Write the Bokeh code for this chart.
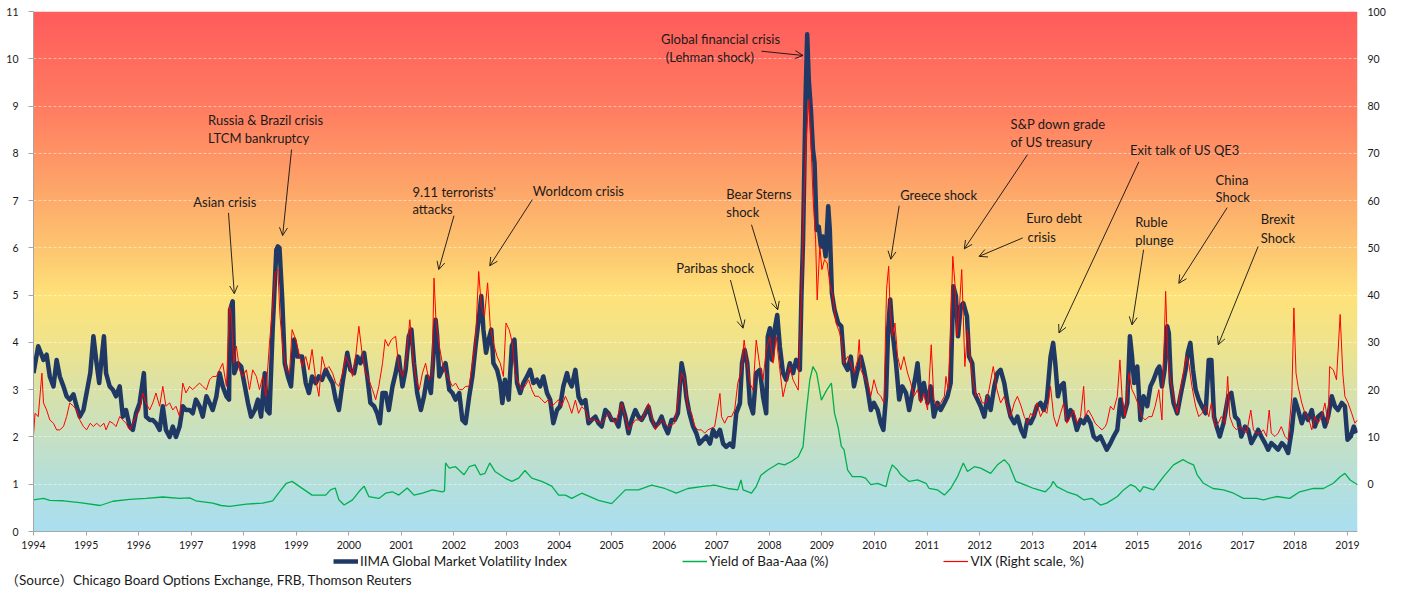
import numpy as np
from bokeh.plotting import figure
from bokeh.layouts import column
from bokeh.models import (Range1d, LinearAxis, FixedTicker, Legend, LegendItem, Label, Title,
                          Arrow, OpenHead, ColumnDataSource)
from bokeh.core.properties import value
from bokeh.embed import file_html
from bokeh.resources import INLINE

# ---------------- data ----------------
iima_dates = [
1994.00,1994.09,1994.19,1994.25,1994.31,1994.38,1994.44,1994.50,1994.57,1994.63,1994.69,1994.76,1994.82,1994.88,1994.95,
1995.01,1995.08,1995.14,1995.20,1995.25,1995.30,1995.34,1995.38,1995.45,1995.51,1995.57,1995.64,1995.70,1995.76,1995.83,1995.89,1995.95,
1996.02,1996.10,1996.14,1996.21,1996.27,1996.33,1996.40,1996.46,1996.52,1996.59,1996.65,1996.71,1996.78,1996.84,1996.90,1996.97,
1997.03,1997.09,1997.16,1997.22,1997.29,1997.35,1997.41,1997.48,1997.54,1997.60,1997.67,1997.72,1997.74,1997.79,1997.82,1997.89,1997.95,
1998.01,1998.08,1998.14,1998.21,1998.27,1998.33,1998.40,1998.44,1998.49,1998.55,1998.62,1998.65,1998.68,1998.73,1998.78,1998.84,1998.90,1998.96,
1999.02,1999.11,1999.18,1999.24,1999.30,1999.37,1999.43,1999.49,1999.56,1999.62,1999.69,1999.75,1999.81,1999.88,1999.97,
2000.03,2000.10,2000.16,2000.22,2000.29,2000.35,2000.41,2000.48,2000.54,2000.59,2000.64,2000.70,2000.76,2000.83,2000.89,2000.95,
2001.02,2001.08,2001.14,2001.19,2001.24,2001.30,2001.37,2001.43,2001.49,2001.56,2001.60,2001.65,2001.68,2001.72,2001.78,2001.84,2001.91,2001.97,
2002.03,2002.10,2002.16,2002.22,2002.29,2002.35,2002.41,2002.47,2002.52,2002.56,2002.61,2002.66,2002.71,2002.75,2002.82,2002.88,2002.92,2002.97,
2003.04,2003.10,2003.15,2003.20,2003.26,2003.32,2003.39,2003.45,2003.51,2003.58,2003.64,2003.70,2003.77,2003.83,2003.89,2003.96,
2004.02,2004.08,2004.15,2004.18,2004.24,2004.31,2004.37,2004.43,2004.50,2004.56,2004.62,2004.69,2004.75,2004.81,2004.88,2004.94,
2005.00,2005.07,2005.13,2005.19,2005.26,2005.32,2005.38,2005.45,2005.51,2005.57,2005.64,2005.70,2005.76,2005.83,2005.89,2005.95,
2006.01,2006.07,2006.14,2006.20,2006.26,2006.33,2006.38,2006.42,2006.48,2006.55,2006.61,2006.67,2006.74,2006.80,2006.87,2006.93,2006.99,
2007.06,2007.12,2007.18,2007.25,2007.31,2007.37,2007.44,2007.48,2007.53,2007.58,2007.63,2007.69,2007.75,2007.82,2007.88,2007.94,2007.97,
2008.01,2008.05,2008.10,2008.15,2008.20,2008.26,2008.32,2008.39,2008.45,2008.51,2008.58,2008.61,2008.64,2008.69,2008.72,2008.75,2008.79,2008.83,2008.86,2008.90,2008.94,2008.98,
2009.02,2009.07,2009.12,2009.15,2009.19,2009.24,2009.31,2009.37,2009.42,2009.49,2009.55,2009.61,2009.68,2009.74,2009.80,2009.87,2009.93,2009.99,
2010.06,2010.12,2010.17,2010.22,2010.26,2010.30,2010.34,2010.41,2010.47,2010.53,2010.60,2010.66,2010.72,2010.77,2010.82,2010.88,2010.94,
2011.01,2011.07,2011.13,2011.20,2011.26,2011.33,2011.39,2011.45,2011.50,2011.55,2011.59,2011.64,2011.69,2011.76,2011.80,2011.86,2011.90,2011.96,
2012.02,2012.09,2012.15,2012.21,2012.28,2012.34,2012.40,2012.47,2012.53,2012.59,2012.66,2012.72,2012.79,2012.85,2012.91,2012.97,
2013.03,2013.09,2013.16,2013.22,2013.28,2013.35,2013.40,2013.44,2013.49,2013.54,2013.60,2013.66,2013.73,2013.79,2013.85,2013.92,2013.98,
2014.04,2014.11,2014.17,2014.23,2014.30,2014.36,2014.42,2014.49,2014.55,2014.62,2014.68,2014.74,2014.81,2014.86,2014.90,2014.94,
2015.00,2015.06,2015.12,2015.19,2015.25,2015.31,2015.38,2015.42,2015.47,2015.52,2015.57,2015.60,2015.64,2015.69,2015.76,2015.82,2015.87,2015.92,2015.96,
2016.01,2016.06,2016.11,2016.17,2016.23,2016.30,2016.36,2016.41,2016.46,2016.51,2016.57,2016.64,2016.73,2016.79,2016.86,2016.92,2016.98,
2017.05,2017.11,2017.17,2017.24,2017.30,2017.36,2017.43,2017.49,2017.55,2017.62,2017.68,2017.75,2017.81,2017.87,2017.94,
2018.00,2018.06,2018.13,2018.19,2018.25,2018.32,2018.38,2018.44,2018.51,2018.57,2018.63,2018.70,2018.76,2018.82,2018.89,2018.95,
2019.00,2019.06,2019.12,2019.17]
iima_values = [
3.35,3.92,3.63,3.74,3.28,3.07,3.63,3.28,3.07,2.86,2.79,2.90,2.65,2.43,2.57,
2.93,3.35,4.13,3.56,3.14,3.70,4.13,3.35,3.07,3.00,2.86,3.07,2.43,2.57,2.22,2.15,2.50,
2.72,3.35,2.43,2.36,2.36,2.29,2.15,2.65,2.15,2.00,2.22,2.00,2.22,2.65,2.57,2.57,
2.50,2.79,2.65,2.43,2.86,2.72,2.57,2.86,3.35,3.07,2.86,2.79,4.69,4.87,3.35,3.56,3.49,
3.14,2.72,2.43,2.57,2.79,2.43,3.35,2.57,2.50,4.27,5.96,6.03,6.00,4.97,3.56,3.28,3.07,4.06,
3.70,3.70,3.14,2.93,3.28,3.14,3.28,3.21,3.42,3.28,3.14,2.79,2.57,3.14,3.78,
3.42,3.35,3.70,3.56,3.78,3.28,2.72,2.65,2.50,2.29,2.93,2.93,2.57,3.07,3.35,3.70,
3.07,3.42,4.13,4.27,3.56,2.93,2.57,2.86,3.28,2.93,3.56,4.48,4.13,3.28,3.42,3.56,3.00,2.93,
2.79,2.93,2.36,2.29,2.86,3.28,3.92,4.48,4.98,4.27,3.78,4.06,4.27,3.56,3.42,3.14,2.72,3.21,
2.79,3.92,4.06,3.14,2.93,3.14,3.28,3.42,3.14,3.21,3.07,3.28,2.93,2.79,2.29,2.57,
2.65,3.07,3.35,3.21,3.07,3.42,2.85,2.71,2.78,2.29,2.36,2.43,2.29,2.22,2.57,2.50,
2.36,2.36,2.22,2.71,2.43,2.08,2.36,2.57,2.43,2.36,2.50,2.64,2.36,2.22,2.29,2.43,
2.22,2.08,2.36,2.36,2.50,3.56,3.28,2.85,2.50,2.22,2.08,1.86,1.94,2.01,1.86,2.15,2.01,
2.15,1.86,1.79,1.86,1.79,2.50,2.71,3.56,3.84,3.56,2.71,2.50,3.35,3.42,2.85,2.50,4.12,
4.30,3.63,4.27,4.58,3.91,3.35,3.21,3.56,3.35,3.63,3.42,4.97,6.10,9.21,10.52,9.56,8.93,8.08,7.80,6.38,6.45,6.03,
6.24,5.82,6.88,6.38,5.04,4.69,4.41,4.34,3.56,3.42,3.70,3.07,3.42,3.70,3.42,3.00,2.57,2.72,
2.57,2.29,2.15,2.86,4.27,4.91,4.27,3.56,2.79,3.07,2.93,2.57,2.93,3.21,3.56,2.79,3.14,
2.72,3.07,2.43,2.72,2.57,2.72,2.86,3.14,5.19,4.98,4.13,4.76,4.83,4.55,3.70,3.56,2.93,2.79,
2.65,2.43,2.86,2.57,3.07,3.35,3.42,3.14,2.72,2.43,2.29,2.43,2.15,2.01,2.36,2.29,
2.43,2.65,2.72,2.57,2.79,3.70,3.99,3.56,2.86,3.07,3.14,2.36,2.57,2.43,2.15,2.36,2.29,
2.43,2.29,2.01,1.94,2.01,1.87,1.73,1.87,2.01,2.15,2.79,2.43,2.72,4.13,3.70,3.14,
3.49,2.36,2.86,2.65,3.07,3.21,3.42,3.49,3.07,3.42,4.34,4.20,3.14,2.72,2.50,2.86,3.14,3.42,3.78,
3.99,3.42,3.00,2.79,2.65,2.50,3.63,3.63,2.43,2.22,2.01,2.29,2.86,2.93,2.43,2.36,2.01,
2.22,2.15,1.87,2.01,2.15,2.01,1.87,1.73,1.87,1.80,1.73,1.87,1.80,1.66,2.15,
2.79,2.57,2.29,2.50,2.36,2.57,2.22,2.43,2.50,2.22,2.43,2.86,2.65,2.57,2.72,2.65,
1.94,2.01,2.22,2.08]

vix_dates = [
1994.00,1994.03,1994.09,1994.16,1994.19,1994.25,1994.31,1994.38,1994.44,1994.50,1994.57,1994.63,1994.69,1994.76,1994.82,1994.88,1994.95,
1995.01,1995.08,1995.14,1995.20,1995.27,1995.34,1995.38,1995.45,1995.51,1995.57,1995.64,1995.70,1995.76,1995.83,1995.89,1995.95,
1996.02,1996.08,1996.14,1996.21,1996.27,1996.33,1996.40,1996.46,1996.52,1996.59,1996.65,1996.71,1996.78,1996.84,1996.90,1996.97,
1997.03,1997.09,1997.16,1997.22,1997.29,1997.35,1997.41,1997.48,1997.54,1997.60,1997.67,1997.73,1997.76,1997.81,1997.86,1997.92,1997.98,
1998.05,1998.11,1998.17,1998.24,1998.30,1998.36,1998.42,1998.49,1998.55,1998.60,1998.65,1998.69,1998.74,1998.81,1998.87,1998.92,1998.99,
1999.11,1999.18,1999.24,1999.30,1999.37,1999.43,1999.49,1999.56,1999.62,1999.69,1999.75,1999.81,1999.88,1999.94,
2000.00,2000.07,2000.13,2000.19,2000.26,2000.32,2000.38,2000.45,2000.51,2000.57,2000.64,2000.69,2000.75,2000.81,2000.89,2000.95,
2001.02,2001.08,2001.16,2001.21,2001.27,2001.34,2001.40,2001.46,2001.52,2001.58,2001.62,2001.66,2001.72,2001.78,2001.84,2001.91,2001.97,
2002.03,2002.10,2002.16,2002.22,2002.29,2002.35,2002.41,2002.47,2002.52,2002.58,2002.64,2002.69,2002.75,2002.82,2002.88,2002.94,2002.99,
2003.05,2003.11,2003.16,2003.23,2003.29,2003.35,2003.42,2003.48,2003.54,2003.61,2003.67,2003.73,2003.80,2003.86,2003.93,2003.99,
2004.05,2004.12,2004.18,2004.24,2004.31,2004.37,2004.43,2004.50,2004.56,2004.69,2004.81,2004.94,
2005.07,2005.19,2005.32,2005.45,2005.57,2005.70,2005.83,2005.95,
2006.07,2006.20,2006.33,2006.39,2006.45,2006.52,2006.58,2006.64,2006.71,2006.77,2006.83,2006.96,
2007.06,2007.09,2007.15,2007.21,2007.28,2007.34,2007.40,2007.47,2007.52,2007.56,2007.63,2007.69,2007.75,2007.82,2007.88,2007.94,
2008.01,2008.07,2008.13,2008.20,2008.26,2008.32,2008.39,2008.45,2008.55,2008.61,2008.66,2008.70,2008.75,2008.79,2008.83,2008.88,2008.91,2008.96,
2009.00,2009.05,2009.10,2009.15,2009.21,2009.27,2009.34,2009.37,2009.42,2009.49,2009.55,2009.61,2009.68,2009.71,2009.74,2009.80,2009.87,2009.93,2009.99,
2010.06,2010.12,2010.18,2010.23,2010.27,2010.30,2010.34,2010.39,2010.44,2010.50,2010.56,2010.63,2010.69,2010.75,2010.82,2010.88,2010.94,
2011.01,2011.08,2011.13,2011.20,2011.26,2011.33,2011.36,2011.40,2011.45,2011.49,2011.53,2011.57,2011.61,2011.66,2011.69,2011.72,2011.77,2011.82,2011.86,2011.93,2011.99,
2012.05,2012.12,2012.18,2012.26,2012.33,2012.40,2012.47,2012.53,2012.59,2012.66,2012.72,2012.79,2012.85,2012.91,2012.97,
2013.03,2013.09,2013.16,2013.22,2013.28,2013.35,2013.41,2013.47,2013.54,2013.60,2013.66,2013.73,2013.79,2013.85,2013.92,2013.98,
2014.01,2014.07,2014.14,2014.20,2014.26,2014.33,2014.39,2014.42,2014.49,2014.55,2014.62,2014.67,2014.71,2014.77,2014.84,2014.90,2014.96,
2015.03,2015.09,2015.15,2015.22,2015.28,2015.34,2015.41,2015.47,2015.54,2015.58,2015.63,2015.69,2015.76,2015.82,2015.88,2015.93,2015.98,
2016.04,2016.11,2016.17,2016.23,2016.30,2016.36,2016.41,2016.48,2016.54,2016.60,2016.67,2016.72,2016.76,2016.83,2016.89,2016.95,
2017.02,2017.08,2017.16,2017.21,2017.27,2017.33,2017.40,2017.46,2017.51,2017.55,2017.62,2017.68,2017.74,2017.81,2017.87,2017.94,2017.98,
2018.02,2018.06,2018.13,2018.19,2018.25,2018.32,2018.38,2018.44,2018.51,2018.57,2018.63,2018.66,2018.73,2018.79,2018.86,2018.91,2018.95,
2019.01,2019.08,2019.14,2019.19]
vix_values = [
10.5,15.0,14.3,23.5,17.2,15.7,13.6,12.9,11.5,11.5,12.2,14.3,17.2,16.5,15.7,13.6,12.2,
11.5,12.9,12.2,12.9,12.2,12.9,11.5,13.3,12.9,12.2,14.3,13.6,12.9,11.5,12.9,14.3,
15.7,19.3,17.2,15.7,17.2,19.3,16.5,20.7,16.5,17.2,15.7,16.5,14.3,21.4,19.3,20.7,
20.0,20.7,21.4,20.7,20.0,22.1,22.8,22.8,24.2,25.6,20.7,37.6,36.2,25.6,29.2,24.2,22.8,
24.2,20.0,24.2,22.8,20.0,22.8,18.6,29.9,37.6,44.7,45.4,35.5,29.2,24.2,23.5,32.7,30.6,
24.9,27.0,24.2,28.5,22.1,18.6,27.0,24.2,24.9,23.5,21.4,20.7,23.5,27.0,
25.6,22.8,27.0,33.4,27.0,23.5,22.1,20.0,17.9,20.7,25.6,30.6,29.2,30.6,31.3,24.9,
22.8,25.6,34.8,27.8,22.8,20.0,23.5,25.6,22.1,22.8,43.6,34.1,29.2,25.6,23.5,22.1,20.7,
21.4,20.0,20.0,20.7,20.7,25.6,30.6,45.0,37.6,35.5,42.6,33.4,29.9,27.0,25.6,22.8,34.1,
32.7,29.9,23.5,21.4,20.0,20.7,22.1,20.0,18.6,18.6,17.9,17.2,17.9,16.5,17.2,17.9,
16.5,18.6,17.1,15.0,17.8,15.0,16.4,15.7,13.6,13.6,12.9,15.0,
12.9,17.1,11.5,13.6,13.6,17.1,11.5,13.6,
12.2,12.9,23.5,22.1,16.4,15.0,12.2,11.5,11.5,10.8,11.5,12.2,
19.2,14.3,12.9,14.3,14.3,15.7,21.4,24.2,30.5,27.0,21.4,19.9,30.5,24.9,22.1,28.4,
31.2,25.6,31.2,24.2,18.5,21.4,24.9,22.1,19.9,39.7,60.9,72.9,81.4,72.9,60.9,51.7,39.0,50.3,
45.4,47.5,46.8,42.5,39.7,34.1,31.9,30.6,25.6,27.0,25.6,23.5,26.3,30.6,24.2,22.8,21.4,18.6,22.1,
19.3,18.6,17.2,41.2,46.1,36.2,31.3,34.1,27.0,24.2,27.0,23.5,21.4,18.6,20.0,17.2,19.3,
15.7,29.5,17.9,16.5,17.2,18.6,22.8,20.0,32.7,48.2,42.6,31.3,36.2,45.4,35.5,24.9,32.7,27.0,22.8,18.6,19.3,
17.2,17.2,20.0,24.9,20.0,17.2,18.6,16.5,14.3,17.2,18.6,16.5,14.3,12.9,15.0,
14.3,17.2,14.3,15.7,15.0,20.7,14.3,12.2,15.0,17.2,12.9,14.3,15.7,12.9,14.3,20.7,
14.3,15.7,14.3,12.9,12.2,11.5,12.2,12.9,16.5,15.7,18.6,26.3,18.6,14.3,23.5,20.0,18.6,
16.5,14.3,13.6,14.3,14.3,16.5,20.0,13.6,40.8,27.0,22.1,18.6,15.0,20.0,23.5,27.0,25.6,
20.7,16.5,14.3,15.0,16.5,14.3,17.2,12.2,12.9,14.3,12.9,22.8,14.3,12.2,11.5,12.2,
11.5,10.8,15.7,11.5,10.8,10.8,11.5,10.1,15.7,10.8,10.1,10.8,12.2,10.1,9.4,18.6,37.3,
23.5,20.7,17.2,15.0,14.3,11.5,14.3,12.9,14.3,17.2,12.9,24.9,24.2,22.1,35.9,23.5,18.6,
17.2,15.0,12.9,13.6]

spread_dates = [
1994.00,1994.19,1994.31,1994.57,1994.88,1995.27,1995.51,1995.83,1996.14,1996.46,1996.78,1996.97,
1997.09,1997.41,1997.57,1997.73,1998.05,1998.36,1998.55,1998.68,1998.81,1998.92,1999.05,1999.30,
1999.56,1999.65,1999.74,1999.81,1999.91,2000.07,2000.19,2000.29,2000.38,2000.57,2000.70,2000.83,
2000.95,2001.11,2001.24,2001.40,2001.59,2001.78,2001.82,2001.84,2001.91,2002.03,2002.19,2002.29,
2002.40,2002.50,2002.59,2002.68,2002.78,2002.97,2003.10,2003.23,2003.35,2003.48,2003.67,2003.86,
2003.99,2004.12,2004.24,2004.43,2004.75,2005.00,2005.26,2005.51,2005.76,2006.01,2006.23,2006.45,
2006.71,2006.96,2007.21,2007.40,2007.46,2007.50,2007.66,2007.75,2007.84,2007.97,2008.17,2008.29,
2008.42,2008.55,2008.64,2008.70,2008.77,2008.83,2008.90,2008.99,2009.09,2009.18,2009.24,2009.31,
2009.37,2009.42,2009.49,2009.58,2009.74,2009.83,2009.93,2010.06,2010.22,2010.28,2010.34,2010.44,
2010.50,2010.66,2010.82,2010.98,2011.04,2011.20,2011.33,2011.45,2011.58,2011.69,2011.77,2011.90,
2012.02,2012.21,2012.34,2012.47,2012.56,2012.69,2012.85,2013.03,2013.25,2013.35,2013.40,2013.47,
2013.66,2013.85,2013.98,2014.14,2014.30,2014.42,2014.62,2014.74,2014.87,2014.96,2015.05,2015.12,
2015.31,2015.50,2015.69,2015.87,2015.98,2016.07,2016.14,2016.26,2016.44,2016.64,2016.83,2017.02,
2017.27,2017.40,2017.65,2017.90,2018.09,2018.35,2018.54,2018.73,2018.86,2018.95,2019.05,2019.19]
spread_values = [
0.67,0.70,0.66,0.65,0.61,0.55,0.64,0.68,0.70,0.73,0.70,0.71,
0.65,0.60,0.55,0.53,0.58,0.60,0.65,0.84,1.02,1.06,0.96,0.77,
0.77,0.88,0.92,0.67,0.56,0.67,0.84,0.96,0.74,0.70,0.81,0.84,
0.77,0.92,0.77,0.81,0.88,0.84,0.86,1.45,1.34,1.37,1.20,1.37,
1.41,1.20,1.23,1.45,1.27,1.13,1.06,1.13,1.29,1.13,1.06,0.96,
0.77,0.77,0.70,0.81,0.66,0.59,0.88,0.88,0.98,0.91,0.81,0.91,
0.95,0.98,0.91,0.88,1.09,0.88,0.81,0.95,1.19,1.30,1.44,1.41,
1.48,1.58,1.79,2.50,3.21,3.49,3.35,2.78,2.99,3.14,2.50,2.20,
1.80,1.73,1.30,1.16,1.16,1.13,0.99,1.02,0.95,1.23,1.41,1.30,
1.20,1.06,1.09,1.02,0.91,0.88,0.77,0.91,1.16,1.45,1.27,1.37,
1.34,1.23,1.41,1.52,1.41,1.06,0.99,0.91,0.84,0.95,1.06,0.95,
0.84,0.77,0.67,0.70,0.56,0.60,0.74,0.88,0.99,0.95,0.84,0.95,
0.88,1.16,1.41,1.52,1.45,1.41,1.20,1.02,0.91,0.88,0.81,0.70,
0.70,0.67,0.74,0.70,0.84,0.91,0.91,1.02,1.16,1.23,1.09,0.99]

year_ticks = list(range(1994, 2020))
left_ticks = list(range(0, 12))
right_ticks = list(range(-10, 101, 10))

series_labels = ["IIMA Global Market Volatility Index", "Yield of Baa-Aaa (%)", "VIX (Right scale, %)"]
source_text = "（Source）Chicago Board Options Exchange, FRB, Thomson Reuters"

# event annotations (text lines, anchored at their left end)
anno_text = ["Asian crisis", "Russia & Brazil crisis", "LTCM bankruptcy", "9.11 terrorists'", "attacks",
             "Worldcom crisis", "Global financial crisis", "(Lehman shock)", "Bear Sterns", "shock",
             "Paribas shock", "Greece shock", "S&P down grade", "of US treasury", "Euro debt", "crisis",
             "Exit talk of US QE3", "Ruble", "plunge", "China", "Shock", "Brexit", "Shock"]
anno_x = [1997.04, 1997.32, 1997.32, 2001.21, 2001.21, 2003.50, 2005.94, 2006.03, 2007.18, 2007.18,
          2006.23, 2010.49, 2012.59, 2012.59, 2012.89, 2012.91, 2014.86, 2014.96, 2014.96, 2016.49, 2016.49,
          2017.35, 2017.35]
anno_y = [6.98, 8.71, 8.33, 7.19, 6.83, 7.21, 10.41, 10.03, 7.14, 6.75, 5.58, 7.11, 8.63, 8.25,
          6.63, 6.24, 8.08, 6.55, 6.16, 7.44, 7.08, 6.62, 6.21]
arrow_x0 = [1997.71, 1998.91, 2002.00, 2003.49, 2007.85, 2007.66, 2007.26, 2010.47, 2012.91, 2012.82,
            2015.03, 2015.12, 2016.71, 2017.30]
arrow_y0 = [6.74, 8.08, 6.68, 7.02, 10.16, 6.49, 5.32, 6.89, 7.97, 6.21, 7.82, 5.96, 6.85, 6.03]
arrow_x1 = [1997.82, 1998.74, 2001.71, 2002.68, 2008.64, 2008.16, 2007.50, 2010.31, 2011.71, 2011.99,
            2013.51, 2014.90, 2015.79, 2016.54]
arrow_y1 = [5.03, 6.26, 5.54, 5.62, 10.07, 4.69, 4.30, 5.76, 5.98, 5.82, 4.20, 4.37, 5.25, 3.95]

# ---------------- styling constants ----------------
X0, X1 = 1994.0, 2019.19
FONT = "Lato, 'Noto Sans CJK JP', sans-serif"
TXT = "#1a1a1a"
NAVY, GREEN, RED = "#1F3864", "#00B050", "#FF0000"
W = 1388
H_MAIN, H_FOOT = 553, 34
LEFT, RIGHT = 33, 27

# ---------------- main chart ----------------
p = figure(width=W, height=H_MAIN, x_range=Range1d(X0, X1), y_range=Range1d(0, 11),
           output_backend="svg", toolbar_location=None,
           min_border_left=LEFT, min_border_right=RIGHT, min_border_top=11, min_border_bottom=22,
           background_fill_color="white", border_fill_color="white", outline_line_color=None)
p.extra_y_ranges = {"vix": Range1d(-10, 100)}

# background gradient (red at the top, yellow in the middle, light blue at the bottom)
stop_v = [0, 1, 2, 3, 4, 5, 6, 7, 8, 9, 11]
stop_rgb = [(170, 224, 242), (181, 223, 220), (198, 225, 196), (218, 226, 168), (240, 228, 140),
            (255, 226, 122), (253, 197, 112), (253, 172, 107), (255, 148, 102), (255, 124, 97), (255, 92, 92)]
n = 1100
vs = np.linspace(0, 11, n)
img = np.empty((n, 1), dtype=np.uint32)
view = img.view(dtype=np.uint8).reshape((n, 1, 4))
for k in range(3):
    view[:, 0, k] = np.interp(vs, stop_v, [c[k] for c in stop_rgb]).astype(np.uint8)
view[:, 0, 3] = 255
p.image_rgba(image=[img], x=X0, y=0, dw=X1 - X0, dh=11, level="image")

# grid
p.xgrid.grid_line_color = None
p.ygrid.ticker = FixedTicker(ticks=left_ticks)
p.ygrid.grid_line_color = "white"
p.ygrid.grid_line_alpha = 0.5
p.ygrid.grid_line_dash = "3 2"
p.ygrid.grid_line_width = 1

# series
p.line(iima_dates, iima_values, line_color=NAVY, line_width=4.5, line_join="round")
p.line(spread_dates, spread_values, line_color=GREEN, line_width=1.3)
p.line(vix_dates, vix_values, line_color=RED, line_width=1, y_range_name="vix")

# axes
xa = p.xaxis[0]
xa.ticker = FixedTicker(ticks=year_ticks)
xa.axis_line_color = "#A6A6A6"
xa.major_tick_line_color = "#A6A6A6"
xa.major_tick_out = 4
xa.major_tick_in = 0
xa.minor_tick_line_color = None
xa.major_label_standoff = 5
xa.major_label_text_font = FONT
xa.major_label_text_font_size = "10.5px"
xa.major_label_text_color = TXT

ya = p.yaxis[0]
ya.ticker = FixedTicker(ticks=left_ticks)
ya.axis_line_color = "#A6A6A6"
ya.major_tick_line_color = "#A6A6A6"
ya.major_tick_out = 5
ya.major_tick_in = 0
ya.minor_tick_line_color = None
ya.major_label_standoff = 10
ya.major_label_text_font = FONT
ya.major_label_text_font_size = "10.5px"
ya.major_label_text_color = TXT

ra = LinearAxis(y_range_name="vix", ticker=FixedTicker(ticks=right_ticks),
                axis_line_color=None, major_tick_line_color=None, minor_tick_line_color=None,
                major_tick_out=0, major_tick_in=0, major_label_standoff=10,
                major_label_text_font=FONT, major_label_text_font_size="10.5px",
                major_label_text_color=TXT, major_label_overrides={-10: ""})
p.add_layout(ra, "right")
p.add_layout(Label(x=X1, y=-10, y_range_name="vix", x_offset=7, text="-10", text_color=RED,
                   text_font=FONT, text_font_size="10.5px", text_baseline="middle", text_align="left"))

# event annotations
p.text(x=anno_x, y=anno_y, text=anno_text, text_font=value(FONT), text_font_size="13px",
       text_baseline="middle", text_align="left", text_color=TXT)
arrow_src = ColumnDataSource(dict(x0=arrow_x0, y0=arrow_y0, x1=arrow_x1, y1=arrow_y1))
p.add_layout(Arrow(end=OpenHead(size=8, line_width=0.9, line_color="#111111"),
                   x_start="x0", y_start="y0", x_end="x1", y_end="y1", source=arrow_src,
                   line_color="#111111", line_width=0.9))

# ---------------- footer: legend and source note ----------------
# its frame lines up with the main frame (x from LEFT to W-RIGHT, in page pixels)
f = figure(width=W, height=H_FOOT, x_range=Range1d(LEFT, W - RIGHT), y_range=Range1d(0, 20),
           output_backend="svg", toolbar_location=None, x_axis_type=None, y_axis_type=None,
           min_border_left=LEFT, min_border_right=RIGHT, min_border_top=0, min_border_bottom=0,
           background_fill_color="white", border_fill_color="white", outline_line_color=None)
f.xgrid.visible = False
f.ygrid.visible = False
nan = float("nan")
s_iima = f.line(x=[nan], y=[nan], line_color=NAVY, line_width=4.5)
s_spread = f.line(x=[nan], y=[nan], line_color=GREEN, line_width=1.5)
s_vix = f.line(x=[nan], y=[nan], line_color=RED, line_width=1.2)
legend = Legend(items=[LegendItem(label=series_labels[0], renderers=[s_iima]),
                       LegendItem(label=series_labels[1], renderers=[s_spread]),
                       LegendItem(label=series_labels[2], renderers=[s_vix])],
                orientation="horizontal", location=(300, 0), spacing=115, glyph_width=25,
                glyph_height=16, label_height=16, label_standoff=2, padding=0, margin=0,
                border_line_color=None, background_fill_alpha=0,
                label_text_font=FONT, label_text_font_size="13.5px", label_text_color=TXT)
f.add_layout(legend)
f.add_layout(Title(text=source_text, align="left", offset=-28, standoff=0, text_font=FONT,
                   text_font_size="13.5px", text_font_style="normal", text_color=TXT), "below")

open("out.html", "w").write(file_html(column(p, f, spacing=0), INLINE))
